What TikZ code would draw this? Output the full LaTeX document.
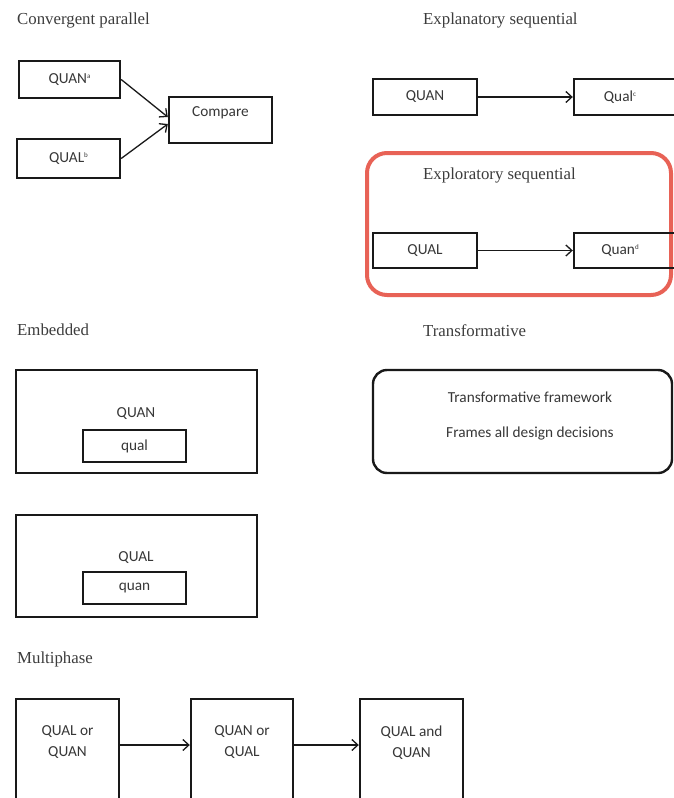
\documentclass[tikz,border=0pt]{standalone}
\usepackage{fontspec}
\setmainfont{Liberation Serif}
\newfontfamily\boxfont{Carlito}
\usetikzlibrary{arrows.meta}
\definecolor{linec}{RGB}{25,25,25}
\definecolor{txtc}{RGB}{55,55,55}
\definecolor{titlec}{RGB}{60,60,60}
\definecolor{redc}{RGB}{232,98,86}
\newcommand{\supmark}[1]{\raisebox{5pt}{\fontsize{7}{8}\selectfont #1}}
\tikzset{
  title/.style={anchor=west, inner sep=0pt, text=titlec, font=\fontsize{16.8}{20}\selectfont},
  box/.style={draw=linec, line width=2.4pt, inner sep=0pt, text=txtc, font=\boxfont\fontsize{15.3}{21}\selectfont, align=center},
  lbl/.style={inner sep=0pt, text=txtc, font=\boxfont\fontsize{15.3}{21}\selectfont, align=center},
  conn/.style={draw=linec, line width=1.3pt, -{Straight Barb[length=6pt,width=11pt,line width=1.3pt]}},
}
\begin{document}
\begin{tikzpicture}[x=1pt,y=-1pt]
\useasboundingbox (0,0) rectangle (674,798);
\clip (0,0) rectangle (674,798);
% Convergent parallel
\node[title] (t1) at (17,20) {Convergent parallel};
\node[box, minimum width=101pt, minimum height=37pt] (qa) at (69.5,79.5) {QUAN\supmark{a}};
\node[box, minimum width=103pt, minimum height=39pt] (qb) at (68.5,158.5) {QUAL\supmark{b}};
\node[box, minimum width=103pt, minimum height=46pt] (cmp) at (220.5,120) {};
\node[lbl] (cmpt) at (220.5,113) {Compare};
\draw[conn] (qa.east) -- ([yshift=3pt]cmp.west);
\draw[conn] (qb.east) -- ([yshift=-4pt]cmp.west);
% Explanatory sequential
\node[title] (t2) at (423,20) {Explanatory sequential};
\node[box, minimum width=104pt, minimum height=36pt] (eq1) at (425,97) {QUAN};
\node[box, minimum width=104pt, minimum height=36pt] (eq2) at (626,97) {\hspace*{-6pt}Qual\supmark{c}\hspace*{6pt}};
\draw[conn] (eq1.east) -- (eq2.west);
% Exploratory sequential
\draw[draw=redc, line width=4pt, rounded corners=20pt] (367,153) rectangle (671,295);
\node[title] (t3) at (423,175) {Exploratory sequential};
\node[box, minimum width=104pt, minimum height=35pt] (xs1) at (425,250.5) {QUAL};
\node[box, minimum width=104pt, minimum height=35pt] (xs2) at (626,250.5) {\hspace*{-6pt}Quan\supmark{d}\hspace*{6pt}};
\draw[conn] (xs1.east) -- (xs2.west);
% Embedded
\node[title] (t4) at (17,330) {Embedded};
\node[box, minimum width=241pt, minimum height=103pt] (emb1) at (136.5,421.5) {};
\node[lbl] (emb1t) at (136,414) {QUAN};
\node[box, minimum width=103pt, minimum height=32pt] (in1) at (134.5,446) {qual};
\node[box, minimum width=241pt, minimum height=102pt] (emb2) at (136.5,566) {};
\node[lbl] (emb2t) at (136,558) {QUAL};
\node[box, minimum width=103pt, minimum height=32pt] (in2) at (134.5,588) {quan};
% Transformative
\node[title] (t5) at (423,331) {Transformative};
\node[draw=linec, line width=2.4pt, rounded corners=14pt, minimum width=299pt, minimum height=103pt, inner sep=0pt] (tf) at (522.5,421.5) {};
\node[lbl] (tf1) at (530,397) {Transformative framework};
\node[lbl] (tf2) at (530,433) {Frames all design decisions};
% Multiphase
\node[title] (t6) at (17,659) {Multiphase};
\node[box, minimum width=103pt, minimum height=131pt] (m1) at (67.5,764.5) {};
\node[box, minimum width=102pt, minimum height=131pt] (m2) at (242,764.5) {};
\node[box, minimum width=103pt, minimum height=131pt] (m3) at (411.5,764.5) {};
\node[lbl] (m1t) at (67.5,742.5) {QUAL or\\QUAN};
\node[lbl] (m2t) at (242,742.5) {QUAN or\\QUAL};
\node[lbl] (m3t) at (411.5,742.5) {QUAL and\\QUAN};
\draw[conn] (m1.east |- 0,745) -- (m2.west |- 0,745);
\draw[conn] (m2.east |- 0,745) -- (m3.west |- 0,745);
\end{tikzpicture}
\end{document}
